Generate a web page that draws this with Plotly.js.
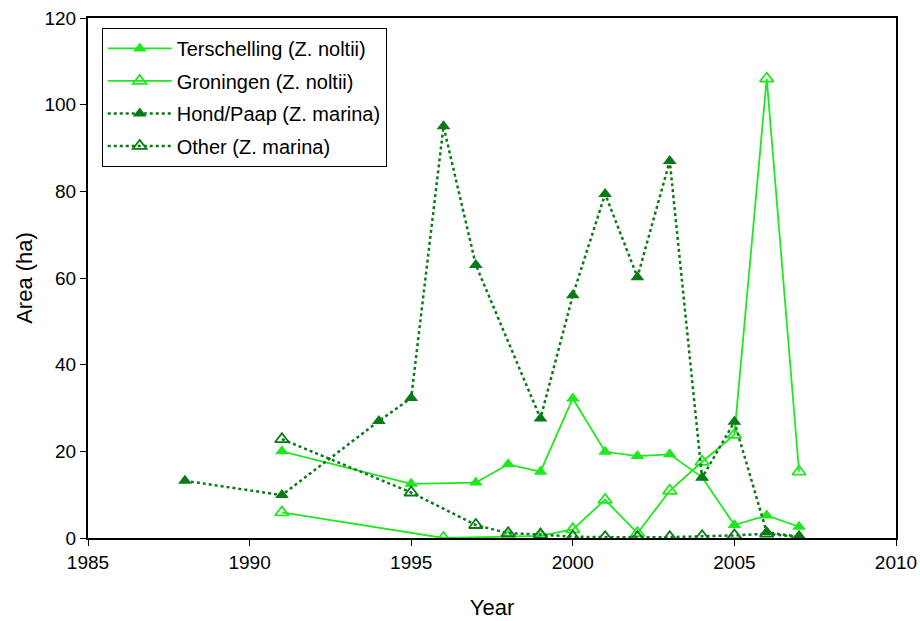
<!DOCTYPE html>
<html>
<head>
<meta charset="utf-8">
<script src="https://cdn.plot.ly/plotly-3.0.1.min.js"></script>
<style>html,body{margin:0;padding:0;background:#fff;}#chart{width:920px;height:621px;}</style>
</head>
<body>
<div id="chart"></div>
<script>
// Terschelling (Z. noltii)
const terYears = [1991, 1995, 1997, 1998, 1999, 2000, 2001, 2002, 2003, 2004, 2005, 2006, 2007];
const terArea  = [20, 12.5, 12.8, 17, 15.3, 32.2, 19.9, 18.9, 19.3, 14, 3, 5.2, 2.6];
// Groningen (Z. noltii)
const groYears = [1991, 1996, 1998, 1999, 2000, 2001, 2002, 2003, 2004, 2005, 2006, 2007];
const groArea  = [5.9, 0, 0.3, 0.5, 2, 8.8, 1.1, 10.9, 17.6, 23.8, 106, 15.3];
// Hond/Paap (Z. marina)
const hpYears = [1988, 1991, 1994, 1995, 1996, 1997, 1999, 2000, 2001, 2002, 2003, 2004, 2005, 2006, 2007];
const hpArea  = [13.2, 9.9, 27, 32.3, 95, 63, 27.6, 56, 79.4, 60.2, 87, 13.9, 26.8, 1.3, 0.3];
// Other (Z. marina)
const othYears = [1991, 1995, 1997, 1998, 1999, 2000, 2001, 2002, 2003, 2004, 2005, 2006, 2007];
const othArea  = [22.8, 10.5, 3, 1.1, 0.8, 0.3, 0.2, 0.2, 0.2, 0.4, 0.6, 1, 0.2];

const seriesNames = ["Terschelling (Z. noltii)", "Groningen (Z. noltii)", "Hond/Paap (Z. marina)", "Other (Z. marina)"];
const xTicks = [1985, 1990, 1995, 2000, 2005, 2010];
const yTicks = [0, 20, 40, 60, 80, 100, 120];

const bright = "#1ee81e";
const dark = "#087a16";

const traces = [
  {x: terYears, y: terArea, name: seriesNames[0], legendgroup: "a", mode: "lines+markers", type: "scatter",
   line: {color: bright, width: 1.8}, marker: {symbol: "triangle-up", size: 12, color: bright}},
  {x: groYears, y: groArea, name: seriesNames[1], legendgroup: "b", mode: "lines+markers", type: "scatter",
   line: {color: bright, width: 1.8}, marker: {symbol: "triangle-up-open", size: 12, color: bright, line: {width: 1.8, color: bright}}},
  {x: hpYears, y: hpArea, name: seriesNames[2], legendgroup: "c", mode: "lines+markers", type: "scatter",
   line: {color: dark, width: 2.5, dash: "dot"}, marker: {symbol: "triangle-up", size: 12, color: dark}},
  {x: othYears, y: othArea, name: seriesNames[3], legendgroup: "d", mode: "lines+markers", type: "scatter",
   line: {color: dark, width: 2.5, dash: "dot"}, marker: {symbol: "triangle-up-open", size: 12, color: dark, line: {width: 1.8, color: dark}}}
];

const layout = {
  width: 920, height: 621,
  margin: {l: 88, r: 24, t: 18, b: 83},
  paper_bgcolor: "#fff", plot_bgcolor: "#fff",
  font: {family: "Liberation Sans, Arial, sans-serif", color: "#000", size: 19},
  showlegend: true,
  legend: {x: 0.017, y: 0.981, xanchor: "left", yanchor: "top",
           bordercolor: "#000", borderwidth: 1, bgcolor: "#fff",
           font: {size: 20}, itemwidth: 64, tracegroupgap: 3.5},
  xaxis: {range: [1985, 2010], tickvals: xTicks, ticktext: xTicks.map(String),
          ticks: "outside", ticklen: 6, tickcolor: "#000", showgrid: false, zeroline: false,
          showline: true, linecolor: "#000", linewidth: 2, mirror: true,
          tickfont: {size: 19},
          title: {text: "Year", font: {size: 22}, standoff: 28}},
  yaxis: {range: [0, 120], tickvals: yTicks, ticktext: yTicks.map(String),
          ticks: "outside", ticklen: 6, tickcolor: "#000", showgrid: false, zeroline: false,
          showline: true, linecolor: "#000", linewidth: 2, mirror: true,
          tickfont: {size: 19},
          title: {text: "Area (ha)", font: {size: 22}, standoff: 6}}
};

Plotly.newPlot("chart", traces, layout, {displayModeBar: false, staticPlot: true});
</script>
</body>
</html>
